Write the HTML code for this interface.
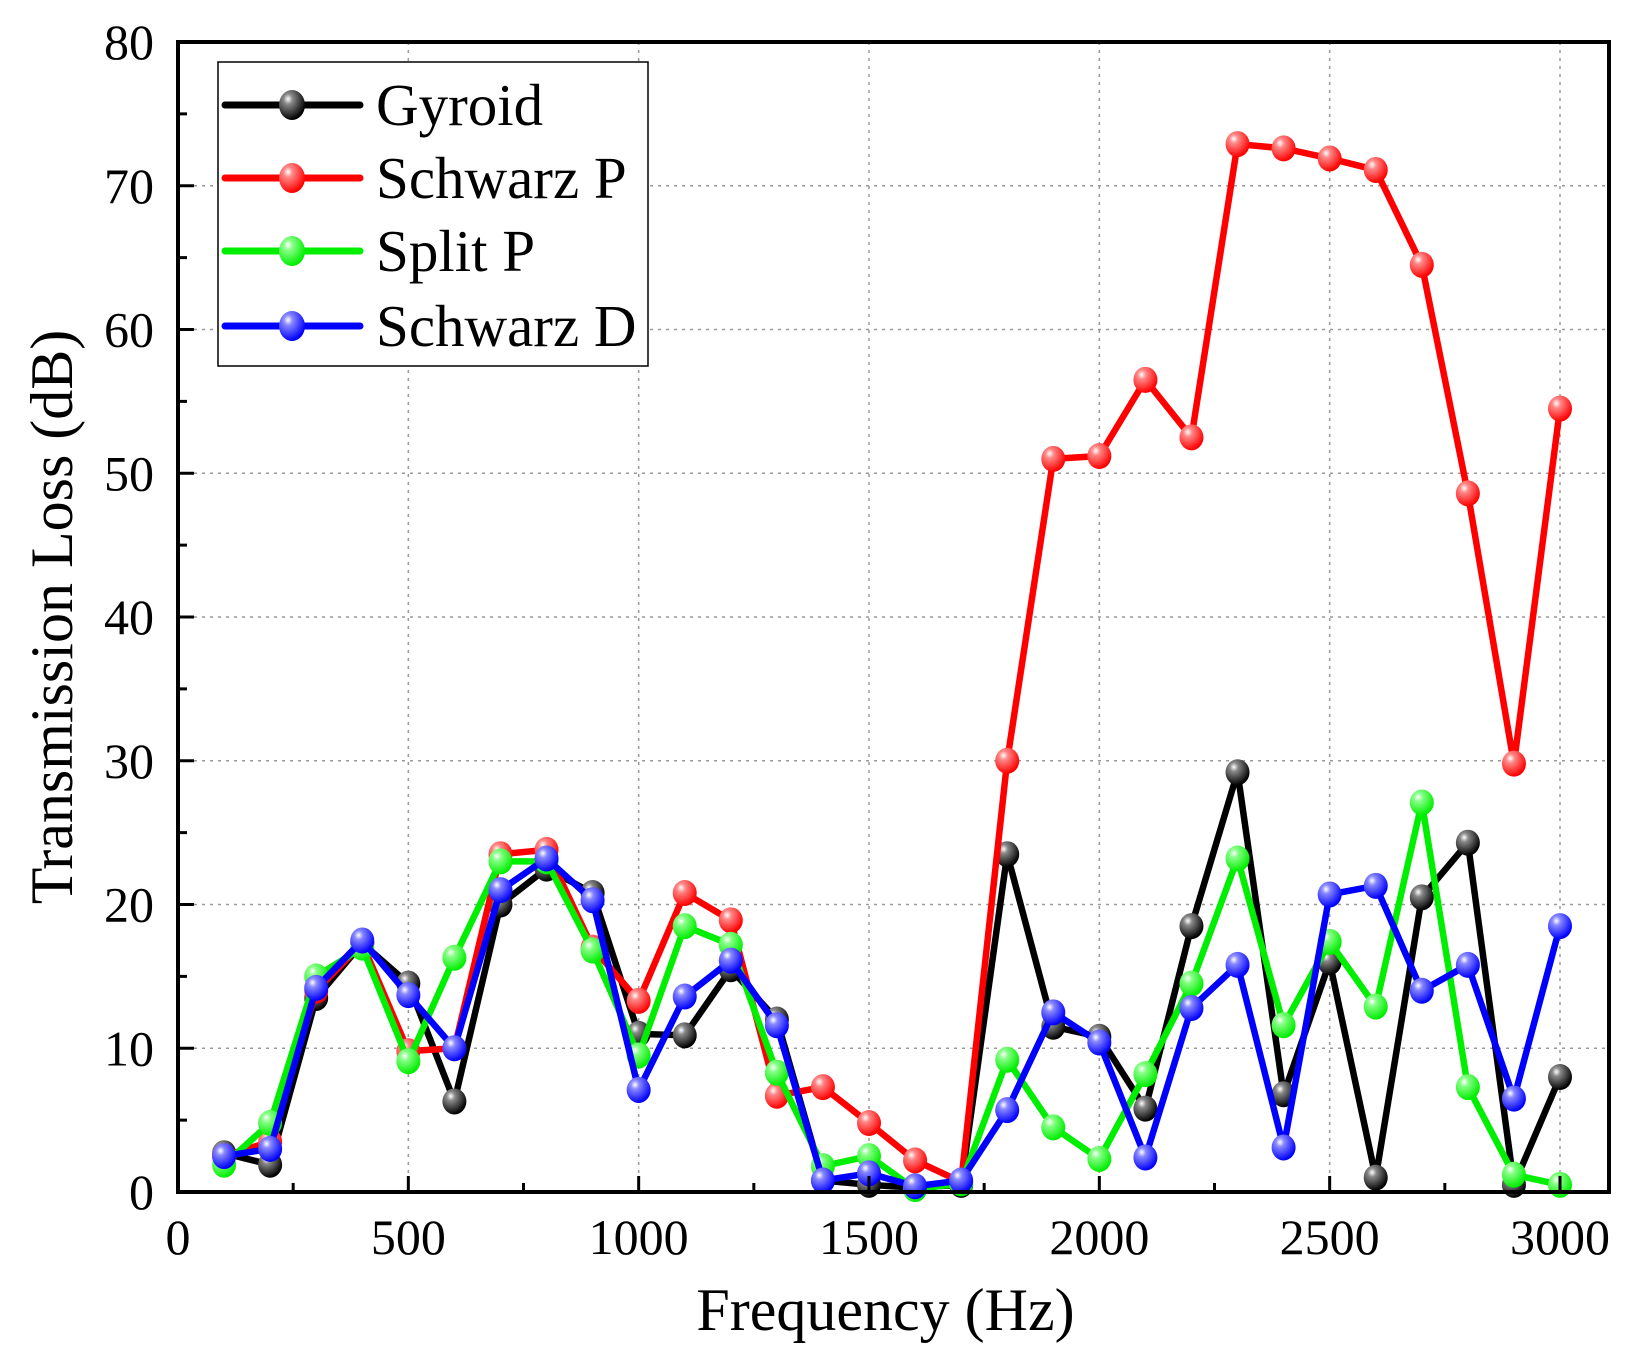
<!DOCTYPE html>
<html><head><meta charset="utf-8"><style>
html,body{margin:0;padding:0;background:#fff;}
svg{display:block;font-family:"Liberation Serif",serif;}
</style></head><body>
<svg id="chart" width="1633" height="1353" viewBox="0 0 1633 1353" xmlns="http://www.w3.org/2000/svg">
<defs>
<radialGradient id="gk" cx="35%" cy="30%" r="70%"><stop offset="0" stop-color="#fff"/><stop offset="0.25" stop-color="#888"/><stop offset="1" stop-color="#000"/></radialGradient>
<radialGradient id="gr" cx="35%" cy="30%" r="70%"><stop offset="0" stop-color="#fff"/><stop offset="0.25" stop-color="#f88"/><stop offset="1" stop-color="#f00"/></radialGradient>
<radialGradient id="gg" cx="35%" cy="30%" r="70%"><stop offset="0" stop-color="#fff"/><stop offset="0.25" stop-color="#8f8"/><stop offset="1" stop-color="#0e0"/></radialGradient>
<radialGradient id="gb" cx="35%" cy="30%" r="70%"><stop offset="0" stop-color="#fff"/><stop offset="0.25" stop-color="#88f"/><stop offset="1" stop-color="#00f"/></radialGradient>
</defs>
<g id="grid"></g><g id="series"></g><g id="axes"></g><g id="legend"></g>
</svg>
<script>
const freqs=[100,200,300,400,500,600,700,800,900,1000,1100,1200,1300,1400,1500,1600,1700,1800,1900,2000,2100,2200,2300,2400,2500,2600,2700,2800,2900,3000];
const gyroid=[2.7,1.9,13.5,17.3,14.5,6.3,20,22.5,20.8,11,10.9,15.5,12,0.8,0.5,0.3,0.5,23.5,11.5,10.8,5.8,18.5,29.2,6.8,16,1,20.5,24.3,0.5,8];
const schwarzP=[2.5,3.5,14,17.3,9.8,10,23.5,23.8,17,13.3,20.8,18.9,6.7,7.3,4.8,2.2,0.7,30,51,51.2,56.5,52.5,72.9,72.6,71.9,71.1,64.5,48.6,29.8,54.5];
const splitP=[1.9,4.8,15,17,9.1,16.3,23,23,16.8,9.5,18.5,17.2,8.3,1.8,2.5,0.2,0.6,9.2,4.5,2.3,8.2,14.5,23.2,11.6,17.4,12.9,27.1,7.3,1.2,0.5];
const schwarzD=[2.5,3,14.2,17.5,13.7,10,21,23.2,20.3,7.1,13.6,16.1,11.6,0.8,1.3,0.4,0.8,5.7,12.5,10.4,2.4,12.8,15.8,3.1,20.7,21.3,14,15.8,6.5,18.5];
const xTicks=[0,500,1000,1500,2000,2500,3000];
const yTicks=[0,10,20,30,40,50,60,70,80];
const seriesNames=["Gyroid","Schwarz P","Split P","Schwarz D"];

const NS="http://www.w3.org/2000/svg";
const L=178,R=1609,T=42,B=1192;
const X=v=>178+(v/3000)*(1560-178);
const Y=v=>B-(v/80)*(B-T);
function mk(tag,attrs,parent){const e=document.createElementNS(NS,tag);for(const k in attrs)e.setAttribute(k,attrs[k]);parent.appendChild(e);return e;}
const grid=document.getElementById('grid'),axes=document.getElementById('axes'),ser=document.getElementById('series'),leg=document.getElementById('legend');
mk('rect',{x:0,y:0,width:1633,height:1353,fill:'#fff'},grid);
xTicks.forEach(t=>{if(t>0){const l=mk('line',{x1:X(t),x2:X(t),y1:T,y2:B,stroke:'#999','stroke-width':1.5,'stroke-dasharray':'3,5'},grid);

}});
yTicks.forEach(t=>{if(t>0&&t<80){const l=mk('line',{x1:L,x2:R,y1:Y(t),y2:Y(t),stroke:'#999','stroke-width':1.5,'stroke-dasharray':'3,5'},grid);

}});
const defs=[[gyroid,'#000','gk'],[schwarzP,'#f00','gr'],[splitP,'#00ee00','gg'],[schwarzD,'#0000ff','gb']];
defs.forEach((d,i)=>{
 const g=mk('g',{},ser);
 
 
 const pts=d[0].map((v,j)=>X(freqs[j])+','+Y(v)).join(' ');
 const pl=mk('polyline',{points:pts,fill:'none',stroke:d[1],'stroke-width':6.5,'stroke-linejoin':'round'},g);
 
 
 d[0].forEach((v,j)=>{const c=mk('ellipse',{cx:X(freqs[j]),cy:Y(v),rx:12,ry:13,fill:'url(#'+d[2]+')'},g);
 
 });
});
const fr=mk('rect',{x:L,y:T,width:R-L,height:B-T,fill:'none',stroke:'#000','stroke-width':4},axes);


for(let t=0;t<=3000;t+=250){const major=t%500===0;mk('line',{x1:X(t),x2:X(t),y1:B,y2:B-(major?16:9),stroke:'#000','stroke-width':3},axes);}
for(let t=0;t<=80;t+=5){const major=t%10===0;mk('line',{x1:L,x2:L+(major?16:9),y1:Y(t),y2:Y(t),stroke:'#000','stroke-width':3},axes);}
xTicks.forEach(t=>{const e=mk('text',{x:X(t),y:B+62,'font-size':50,'text-anchor':'middle'},axes);e.textContent=t;

});
yTicks.forEach(t=>{const e=mk('text',{x:L-24,y:Y(t)+17,'font-size':50,'text-anchor':'end'},axes);e.textContent=t;

});
const xt=mk('text',{x:(L+R)/2-8,y:1330,'font-size':60,'text-anchor':'middle'},axes);xt.textContent='Frequency (Hz)';


const yt=mk('text',{x:0,y:0,'font-size':60,'text-anchor':'middle',transform:'translate(72,617) rotate(-90)'},axes);yt.textContent='Transmission Loss (dB)';


const lb=mk('rect',{x:218,y:62,width:430,height:304,fill:'#fff',stroke:'#000','stroke-width':1.5},leg);


const ly=[105,178,251,326];
defs.forEach((d,i)=>{
 const g=mk('g',{},leg);
 
 
 mk('line',{x1:225,x2:360,y1:ly[i],y2:ly[i],stroke:d[1],'stroke-width':7,'stroke-linecap':'round'},g);
 mk('ellipse',{cx:292,cy:ly[i],rx:13,ry:15,fill:'url(#'+d[2]+')'},g);
 const t=mk('text',{x:376,y:ly[i]+20,'font-size':59},g);t.textContent=seriesNames[i];
});
</script>
</body></html>
